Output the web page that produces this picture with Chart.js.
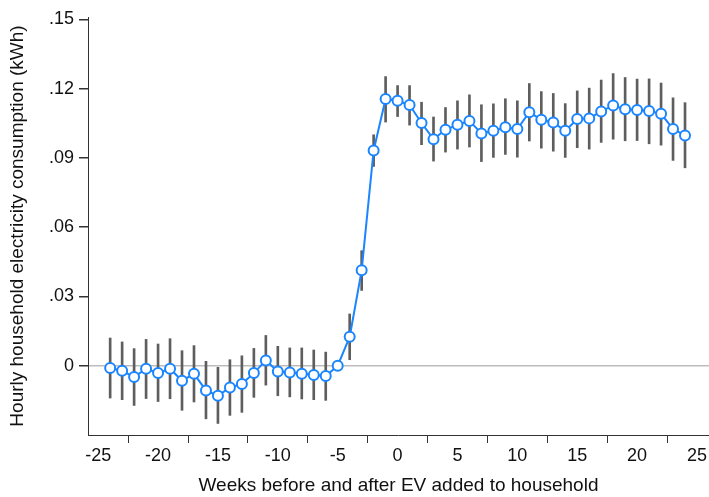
<!DOCTYPE html>
<html>
<head>
<meta charset="utf-8">
<script src="https://cdn.jsdelivr.net/npm/chart.js@4.4.1/dist/chart.umd.min.js"></script>
<style>
  html, body { margin: 0; padding: 0; background: #fff; }
  #wrap { width: 709px; height: 497px; }
</style>
</head>
<body>
<div id="wrap"><canvas id="mycanvas" width="709" height="497"></canvas></div>
<script>
// weeks relative to EV arrival (week -5 is the omitted reference week)
var weeks = [-24,-23,-22,-21,-20,-19,-18,-17,-16,-15,-14,-13,-12,-11,-10,-9,-8,-7,-6,-5,
             -4,-3,-2,-1,0,1,2,3,4,5,6,7,8,9,10,11,12,13,14,15,16,17,18,19,20,21,22,23,24];
var coef = [-0.0010,-0.0022,-0.0049,-0.0013,-0.0032,-0.0013,-0.0065,-0.0035,-0.0107,-0.0130,
            -0.0094,-0.0079,-0.0032,0.0023,-0.0025,-0.0029,-0.0035,-0.0040,-0.0045,0.0000,
            0.0125,0.0413,0.0932,0.1155,0.1147,0.1129,0.1051,0.0981,0.1022,0.1043,
            0.1060,0.1006,0.1017,0.1033,0.1025,0.1098,0.1065,0.1053,0.1017,0.1068,
            0.1071,0.1101,0.1127,0.1111,0.1107,0.1103,0.1091,0.1025,0.0997];
var upper = [0.0120,0.0103,0.0074,0.0114,0.0094,0.0117,0.0065,0.0087,0.0019,-0.0007,
             0.0026,0.0043,0.0075,0.0131,0.0084,0.0077,0.0077,0.0068,0.0059,null,
             0.0224,0.0498,0.1000,0.1252,0.1213,0.1213,0.1141,0.1077,0.1118,0.1147,
             0.1173,0.1130,0.1134,0.1156,0.1147,0.1222,0.1187,0.1179,0.1135,0.1190,
             0.1202,0.1237,0.1265,0.1248,0.1241,0.1242,0.1224,0.1160,0.1139];
var lower = [-0.0140,-0.0147,-0.0172,-0.0142,-0.0155,-0.0143,-0.0193,-0.0157,-0.0230,-0.0250,
             -0.0215,-0.0202,-0.0137,-0.0084,-0.0130,-0.0135,-0.0144,-0.0147,-0.0150,null,
             0.0026,0.0326,0.0863,0.1055,0.1079,0.1042,0.0957,0.0886,0.0925,0.0938,
             0.0947,0.0884,0.0902,0.0915,0.0903,0.0973,0.0942,0.0929,0.0902,0.0944,
             0.0938,0.0967,0.0981,0.0974,0.0975,0.0961,0.0955,0.0889,0.0857];
var xTicks = [-25,-20,-15,-10,-5,0,5,10,15,20,25];
var yTicks = [0,0.03,0.06,0.09,0.12,0.15];

var points = [];
var bars = [];
for (var i in weeks) {
    points.push({x: weeks[i], y: coef[i]});
    if (lower[i] !== null) {
        bars.push({x: weeks[i], y: [lower[i], upper[i]]});
    }
}

var blue = "#1a85ff";
var tickFont = {family: "'Liberation Sans', Arial, sans-serif", size: 18};
var titleFont = {family: "'Liberation Sans', Arial, sans-serif", size: 19};

new Chart(document.getElementById("mycanvas"), {
    type: 'line',
    data: {
        datasets: [
            {
                type: 'line',
                label: "estimate",
                data: points,
                borderColor: blue,
                borderWidth: 2,
                backgroundColor: "#ffffff",
                pointBackgroundColor: "#ffffff",
                pointBorderColor: blue,
                pointBorderWidth: 2,
                pointRadius: 5,
                lineTension: 0,
                fill: false,
                order: 0
            },
            {
                type: 'bar',
                label: "ci",
                data: bars,
                backgroundColor: "#5e5e5e",
                borderWidth: 0,
                barThickness: 2,
                order: 1
            }
        ]
    },
    options: {
        responsive: false,
        animation: false,
        layout: {autoPadding: false, padding: {top: 17, right: 0, left: 0, bottom: 0}},
        plugins: {legend: {display: false}, tooltip: {enabled: false}},
        scales: {
            x: {
                type: 'linear',
                min: -25.85,
                max: 26,
                offset: false,
                afterBuildTicks: function(scale) {
                    scale.ticks = xTicks.map(function(v){ return {value: v}; });
                },
                afterFit: function(scale) { scale.height = 62; },
                grid: {drawOnChartArea: false, tickColor: "#333", tickLength: 8, lineWidth: 1},
                border: {display: true, color: "#333", width: 1},
                ticks: {color: "#111", font: tickFont, padding: 2, maxRotation: 0,
                        callback: function(v){ return String(v); }},
                title: {display: true, text: "Weeks before and after EV added to household",
                        color: "#111", font: titleFont, padding: {top: 5, bottom: 0}}
            },
            y: {
                type: 'linear',
                min: -0.03,
                max: 0.151,
                afterBuildTicks: function(scale) {
                    scale.ticks = yTicks.map(function(v){ return {value: v}; });
                },
                afterFit: function(scale) { scale.width = 88; },
                grid: {
                    color: function(ctx){ return ctx.tick && ctx.tick.value === 0 ? "#bdbdbd" : "rgba(0,0,0,0)"; },
                    tickColor: "#333",
                    tickLength: 9,
                    lineWidth: 1.5
                },
                border: {display: true, color: "#333", width: 1},
                ticks: {color: "#111", font: tickFont, padding: 5,
                        callback: function(v){ return v === 0 ? "0" : v.toFixed(2).replace(/^0/, ""); }},
                title: {display: true, text: "Hourly household electricity consumption (kWh)",
                        color: "#111", font: titleFont, padding: {top: 6, bottom: 0}}
            }
        }
    }
});
</script>
</body>
</html>
